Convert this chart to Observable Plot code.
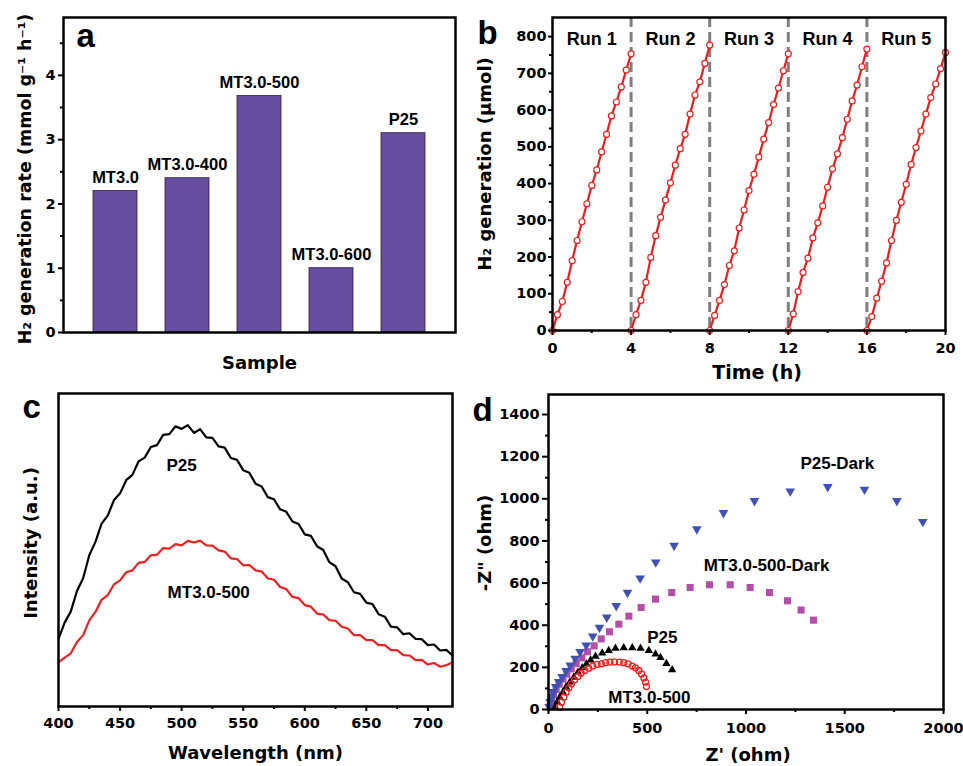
<!DOCTYPE html>
<html><head><meta charset="utf-8">
<script src="https://cdn.jsdelivr.net/npm/d3@7"></script>
<script src="https://cdn.jsdelivr.net/npm/@observablehq/plot@0.6"></script>
<style>
html,body{margin:0;padding:0;background:#fff;}
#fig{position:relative;width:963px;height:766px;overflow:hidden;background:#fff;}
.panel{position:absolute;}
</style></head><body><div id="fig"></div>
<script>
// ---------- Panel a data ----------
const sampleNames = ["MT3.0", "MT3.0-400", "MT3.0-500", "MT3.0-600", "P25"];
const h2Rates = [2.2, 2.4, 3.68, 1.0, 3.1];
const rateTicks = [0, 1, 2, 3, 4];
const rateMinorTicks = [0.5, 1.5, 2.5, 3.5, 4.5];
const rateTitle = "H₂ generation rate (mmol g⁻¹ h⁻¹)";
const sampleTitle = "Sample";

// ---------- Panel b data ----------
const runLabels = ["Run 1", "Run 2", "Run 3", "Run 4", "Run 5"];
const runStarts = [0, 4, 8, 12, 16];
const runElapsed = [0, 0.25, 0.5, 0.75, 1, 1.25, 1.5, 1.75, 2, 2.25, 2.5, 2.75, 3, 3.25, 3.5, 3.75, 4];
const run1 = [0, 43, 79, 131, 190, 245, 296, 345, 395, 437, 486, 534, 584, 622, 663, 709, 753];
const run2 = [0, 43, 82, 131, 199, 258, 308, 355, 402, 450, 495, 534, 589, 641, 677, 727, 777];
const run3 = [0, 41, 82, 125, 177, 217, 279, 328, 381, 425, 472, 521, 566, 615, 660, 707, 753];
const run4 = [0, 45, 106, 158, 197, 252, 293, 339, 390, 440, 481, 525, 575, 625, 668, 718, 766];
const run5 = [0, 38, 88, 134, 184, 245, 300, 349, 398, 452, 498, 543, 589, 634, 671, 713, 757];
const timeTicks = [0, 4, 8, 12, 16, 20];
const timeMinorTicks = [2, 6, 10, 14, 18];
const h2Ticks = [0, 100, 200, 300, 400, 500, 600, 700, 800];
const h2MinorTicks = [50, 150, 250, 350, 450, 550, 650, 750];
const h2Title = "H₂ generation (μmol)";
const timeTitle = "Time (h)";

// ---------- Panel c data ----------
const wavelengths = [400, 405, 410, 415, 420, 425, 430, 435, 440, 445, 450, 455, 460, 465, 470, 475, 480, 485, 490, 495,
  500, 505, 510, 515, 520, 525, 530, 535, 540, 545, 550, 555, 560, 565, 570, 575, 580, 585, 590, 595,
  600, 605, 610, 615, 620, 625, 630, 635, 640, 645, 650, 655, 660, 665, 670, 675, 680, 685, 690, 695,
  700, 705, 710, 715, 720];
const plP25 = [21.6, 26.8, 30.4, 36.9, 41.0, 48.3, 52.6, 58.4, 61.0, 65.9, 68.1, 72.3, 74.0, 78.3, 79.5, 82.9, 83.5, 86.8, 87.0, 89.5,
  88.7, 89.9, 87.4, 88.6, 86.0, 85.8, 83.1, 82.7, 79.4, 78.8, 75.5, 74.7, 71.2, 70.3, 66.9, 66.2, 63.0, 62.2, 59.1, 58.3,
  55.0, 54.5, 51.2, 50.0, 46.1, 44.8, 40.9, 39.7, 36.5, 36.0, 33.2, 32.7, 29.5, 28.7, 25.5, 25.3, 23.1, 23.4, 21.6, 21.5,
  19.6, 19.8, 17.9, 18.1, 16.3];
const plMT = [14.1, 15.6, 17.0, 20.6, 22.8, 27.5, 30.2, 34.1, 35.6, 39.0, 40.3, 42.9, 43.5, 45.9, 46.2, 48.3, 48.5, 50.6, 50.4, 51.9,
  51.5, 52.9, 52.4, 53.0, 51.5, 51.4, 49.9, 49.5, 47.3, 47.1, 45.1, 45.2, 43.5, 43.1, 40.9, 40.5, 38.2, 37.5, 35.0, 34.6,
  32.4, 31.9, 29.7, 29.4, 27.6, 27.4, 25.5, 24.9, 22.8, 22.8, 21.2, 21.2, 19.6, 19.6, 18.0, 18.0, 16.4, 16.3, 14.8, 14.9,
  13.4, 13.9, 12.7, 13.2, 14.1];
const wlTicks = [400, 450, 500, 550, 600, 650, 700];
const wlMinorTicks = [425, 475, 525, 575, 625, 675];
const plTitle = "Intensity (a.u.)";
const wlTitle = "Wavelength (nm)";
const plLabels = ["P25", "MT3.0-500"];
const plLabelX = [500, 522];
const plLabelY = [77, 36.5];

// ---------- Panel d data ----------
const p25DarkRe = [3, 8, 15, 25, 37, 52, 69, 89, 110, 135, 160, 191, 224, 258, 295, 343, 400, 464, 543, 636, 751, 886, 1043, 1224, 1414, 1600, 1764, 1895];
const p25DarkIm = [13, 36, 60, 84, 108, 131, 155, 184, 210, 242, 274, 305, 348, 389, 437, 492, 555, 623, 699, 778, 856, 933, 990, 1036, 1057, 1044, 990, 891];
const mtDarkRe = [8, 15, 25, 39, 54, 73, 93, 115, 140, 169, 197, 231, 267, 309, 356, 407, 469, 542, 624, 717, 815, 920, 1021, 1119, 1210, 1279, 1342];
const mtDarkIm = [16, 41, 68, 95, 120, 144, 168, 193, 218, 245, 274, 302, 335, 369, 405, 443, 484, 524, 555, 579, 592, 592, 579, 555, 516, 472, 424];
const p25Re = [34, 44, 57, 73, 89, 108, 128, 149, 171, 192, 213, 238, 272, 305, 339, 381, 424, 466, 508, 542, 567, 597, 626];
const p25Im = [11, 35, 58, 82, 106, 130, 153, 177, 198, 216, 235, 252, 268, 280, 290, 293, 293, 290, 280, 263, 246, 218, 188];
const mtRe = [56, 66, 78, 89, 103, 116, 132, 149, 165, 184, 204, 224, 246, 268, 289, 311, 334, 359, 381, 402, 424, 440, 457, 471, 483, 491, 496];
const mtIm = [11, 35, 58, 82, 103, 122, 141, 157, 172, 185, 196, 206, 214, 217, 222, 225, 226, 225, 222, 217, 206, 198, 185, 169, 150, 130, 109];
const zReTicks = [0, 500, 1000, 1500, 2000];
const zReMinorTicks = [250, 750, 1250, 1750];
const zImTicks = [0, 200, 400, 600, 800, 1000, 1200, 1400];
const zImMinorTicks = [100, 300, 500, 700, 900, 1100, 1300];
const zImTitle = '-Z" (ohm)';
const zReTitle = "Z' (ohm)";
const eisLabels = ["P25-Dark", "MT3.0-500-Dark", "P25", "MT3.0-500"];
const eisLabelX = [1462, 1104, 576, 511];
const eisLabelY = [1169, 683, 340, 58];

// ---------- helpers ----------
const ann = "'Liberation Sans', Arial, sans-serif";
const baseStyle = "font-family: 'DejaVu Sans', sans-serif; font-weight: bold; font-size: 14.5px; background: transparent; overflow: visible; color: black;";
const plain = d => String(d);
const blank = () => "";
function place(svg, left, top) {
  const div = document.createElement("div");
  div.className = "panel";
  div.style.left = left + "px";
  div.style.top = top + "px";
  div.appendChild(svg);
  document.getElementById("fig").appendChild(div);
}
const triDown = {
  draw(ctx, size) {
    const s = Math.sqrt(size / (Math.sqrt(3) / 4));
    const h = s * Math.sqrt(3) / 2;
    ctx.moveTo(0, h * 2 / 3);
    ctx.lineTo(s / 2, -h / 3);
    ctx.lineTo(-s / 2, -h / 3);
    ctx.closePath();
  }
};
const triUp = {
  draw(ctx, size) {
    const s = Math.sqrt(size / (Math.sqrt(3) / 4));
    const h = s * Math.sqrt(3) / 2;
    ctx.moveTo(0, -h * 2 / 3);
    ctx.lineTo(s / 2, h / 3);
    ctx.lineTo(-s / 2, h / 3);
    ctx.closePath();
  }
};
const yTitle = (t, dx, dy, fs) => Plot.text([t], {text: d => d, frameAnchor: "left", textAnchor: "middle", lineAnchor: "middle", rotate: -90, dx, dy, fontSize: fs});
const xTitle = (t, dx, dy, fs) => Plot.text([t], {text: d => d, frameAnchor: "bottom", textAnchor: "middle", lineAnchor: "middle", dx, dy, fontSize: fs});
const panelLetter = (t, dx, dy) => Plot.text([t], {text: d => d, frameAnchor: "top-left", textAnchor: "start", lineAnchor: "top", dx, dy, fontFamily: ann, fontSize: 33});

// ---------- Panel a ----------
const barData = sampleNames.map((s, i) => ({sample: s, rate: h2Rates[i]}));
place(Plot.plot({
  width: 480, height: 380, marginLeft: 63, marginRight: 25, marginTop: 17, marginBottom: 48,
  style: baseStyle,
  x: {domain: sampleNames, paddingInner: 0.395, paddingOuter: 0.39, axis: null},
  y: {domain: [0, 4.9]},
  marks: [
    Plot.barY(barData, {x: "sample", y: "rate", fill: "#674ea0", stroke: "#2b2040", strokeWidth: 0.8}),
    Plot.text(barData, {x: "sample", y: "rate", text: "sample", dy: -8, lineAnchor: "bottom", fontFamily: ann, fontSize: 16.5}),
    Plot.axisY({ticks: rateTicks, tickSize: 5, tickPadding: 3, strokeWidth: 2, tickFormat: plain, label: null}),
    Plot.axisY({ticks: rateMinorTicks, tickSize: 3, strokeWidth: 2, tickFormat: blank, label: null}),
    Plot.frame({stroke: "black", strokeWidth: 2.5}),
    panelLetter("a", 13, 6),
    yTitle(rateTitle, -38, 4, 17.5),
    xTitle(sampleTitle, 0, 31, 18)
  ]
}), 0, 0);

// ---------- Panel b ----------
const runValues = [run1, run2, run3, run4, run5];
const runData = [];
runValues.forEach((vals, r) => vals.forEach((v, i) => runData.push({run: runLabels[r], t: runStarts[r] + runElapsed[i], h2: v})));
place(Plot.plot({
  width: 493, height: 380, marginLeft: 82, marginRight: 18, marginTop: 17, marginBottom: 50,
  style: baseStyle,
  x: {domain: [0, 20]},
  y: {domain: [0, 852]},
  marks: [
    Plot.ruleX(runStarts.slice(1), {stroke: "#7f7f7f", strokeWidth: 3, strokeDasharray: "10,5"}),
    Plot.line(runData, {x: "t", y: "h2", z: "run", stroke: "#f01c1c", strokeWidth: 2.2}),
    Plot.dot(runData, {x: "t", y: "h2", r: 3, stroke: "#f01c1c", fill: "white", strokeWidth: 1.2}),
    Plot.text(runLabels, {text: d => d, x: (d, i) => runStarts[i] + 2, frameAnchor: "top", textAnchor: "middle", lineAnchor: "middle", dy: 22, fontFamily: ann, fontSize: 18}),
    Plot.axisY({ticks: h2Ticks, tickSize: 4, tickPadding: 2, strokeWidth: 2, tickFormat: plain, label: null}),
    Plot.axisY({ticks: h2MinorTicks, tickSize: 3, strokeWidth: 2, tickFormat: blank, label: null}),
    Plot.axisX({ticks: timeTicks, tickSize: 5, tickPadding: 7, strokeWidth: 2, tickFormat: plain, label: null}),
    Plot.axisX({ticks: timeMinorTicks, tickSize: 3, strokeWidth: 2, tickFormat: blank, label: null}),
    Plot.frame({stroke: "black", strokeWidth: 2.5}),
    panelLetter("b", -75, 3),
    yTitle(h2Title, -67, -10, 18),
    xTitle(timeTitle, 8, 42, 19)
  ]
}), 470, 0);

// ---------- Panel c ----------
const plData = [];
wavelengths.forEach((w, i) => {
  plData.push({sample: "P25", wl: w, v: plP25[i]});
  plData.push({sample: "MT3.0-500", wl: w, v: plMT[i]});
});
place(Plot.plot({
  width: 480, height: 386, marginLeft: 58, marginRight: 28, marginTop: 13, marginBottom: 60,
  style: baseStyle,
  x: {domain: [400, 720]},
  y: {domain: [0, 100], axis: null},
  color: {domain: ["P25", "MT3.0-500"], range: ["#000000", "#ee2020"]},
  marks: [
    Plot.line(plData, {x: "wl", y: "v", z: "sample", stroke: "sample", strokeWidth: 2.2}),
    Plot.text(plLabels, {text: d => d, x: (d, i) => plLabelX[i], y: (d, i) => plLabelY[i], fontFamily: ann, fontSize: 17}),
    Plot.axisX({ticks: wlTicks, tickSize: 5, tickPadding: 6, strokeWidth: 2, tickFormat: plain, label: null}),
    Plot.axisX({ticks: wlMinorTicks, tickSize: 3, strokeWidth: 2, tickFormat: blank, label: null}),
    Plot.frame({stroke: "black", strokeWidth: 2.5}),
    panelLetter("c", -36, 1),
    yTitle(plTitle, -27, -7, 18),
    xTitle(wlTitle, 0, 47, 18)
  ]
}), 0, 380);

// ---------- Panel d ----------
const toPts = (re, im) => re.map((x, i) => ({re: x, im: im[i]}));
place(Plot.plot({
  width: 493, height: 386, marginLeft: 78, marginRight: 20, marginTop: 14, marginBottom: 57,
  style: baseStyle,
  x: {domain: [0, 2000]},
  y: {domain: [0, 1495]},
  marks: [
    Plot.dot(toPts(mtDarkRe, mtDarkIm), {x: "re", y: "im", symbol: "square", r: 4, fill: "#b44fa8"}),
    Plot.dot(toPts(p25DarkRe, p25DarkIm), {x: "re", y: "im", symbol: triDown, r: 3.6, fill: "#3f51b5"}),
    Plot.dot(toPts(p25Re, p25Im), {x: "re", y: "im", symbol: triUp, r: 3.1, fill: "black"}),
    Plot.dot(toPts(mtRe, mtIm), {x: "re", y: "im", r: 3, stroke: "#ff1a1a", fill: "none", strokeWidth: 1.3}),
    Plot.text(eisLabels, {text: d => d, x: (d, i) => eisLabelX[i], y: (d, i) => eisLabelY[i], fontFamily: ann, fontSize: 17}),
    Plot.axisY({ticks: zImTicks, tickSize: 6, tickPadding: 3, strokeWidth: 2, tickFormat: plain, label: null}),
    Plot.axisY({ticks: zImMinorTicks, tickSize: 3, strokeWidth: 2, tickFormat: blank, label: null}),
    Plot.axisX({ticks: zReTicks, tickSize: 5, tickPadding: 8, strokeWidth: 2, tickFormat: plain, label: null}),
    Plot.axisX({ticks: zReMinorTicks, tickSize: 3, strokeWidth: 2, tickFormat: blank, label: null}),
    Plot.frame({stroke: "black", strokeWidth: 2.5}),
    panelLetter("d", -76, 3),
    yTitle(zImTitle, -63, -9, 18),
    xTitle(zReTitle, 2, 46, 18)
  ]
}), 470, 380);
</script></body></html>
